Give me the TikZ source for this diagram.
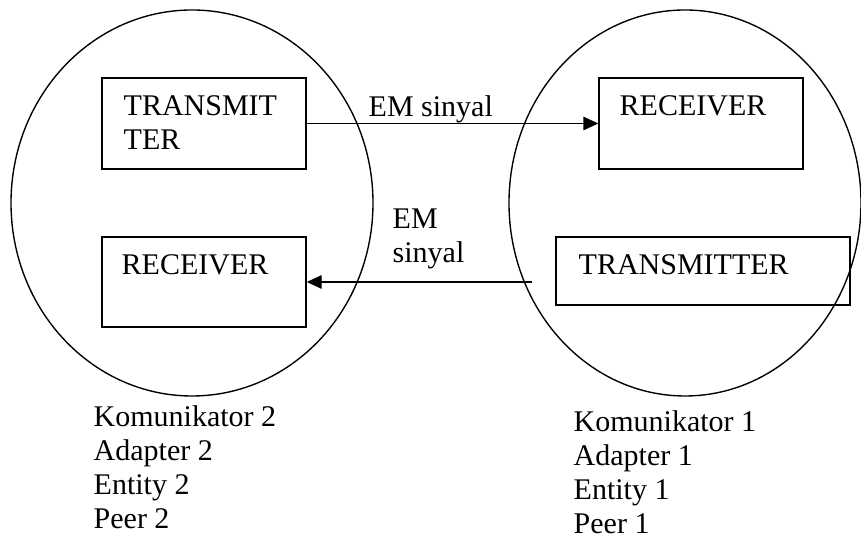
\documentclass[tikz,border=0pt]{standalone}
\usepackage{fontspec}
\setmainfont{Liberation Serif}
\usetikzlibrary{arrows.meta}
\begin{document}
\begin{tikzpicture}[x=0.4pt,y=-0.4pt,line width=0.55pt,
  box/.style={draw,rectangle,minimum width=81.6pt,inner sep=0pt},
  txt/.style={anchor=base west,inner sep=0pt,align=left,font=\fontsize{12}{13.6}\selectfont},
  sig/.style={-{Triangle[length=6pt,width=5.4pt]}}]
\useasboundingbox (0,0) rectangle (861,537);
% komunikator 2
\draw (192,203) ellipse [x radius=181,y radius=193];
% komunikator 1
\draw (685,203) ellipse [x radius=176,y radius=193];

\node[box,minimum height=36.4pt] (t2) at (204,123.5){};
\node[box,minimum height=36pt] (r2) at (204,282){};
\node[box,minimum height=36.4pt] (r1) at (701,123.5){};
\node[box,minimum width=117.6pt,minimum height=27.2pt] (t1) at (703,271){};

% base west = baseline of the last line
\node[txt] (t2text) at (123,150){TRANSMIT\\TER};
\node[txt] (r2text) at (121,275){RECEIVER};
\node[txt] (r1text) at (619,116){RECEIVER};
\node[txt] (t1text) at (578,275){TRANSMITTER};

%%%%%%%%
\coordinate (e1) at (532,282);
\draw[sig] (t2) -- (r1);
\draw[sig] (e1) -- (r2.east);
\node[txt] (em1) at (368,117){EM sinyal};
\node[txt] (em2) at (392,263){EM\\sinyal};

%%%%%%%%
\node[txt] (k2) at (93,529){Komunikator 2\\Adapter 2\\Entity 2\\Peer 2};
\node[txt] (k1) at (573,534){Komunikator 1\\Adapter 1\\Entity 1\\Peer 1};
\end{tikzpicture}
\end{document}
